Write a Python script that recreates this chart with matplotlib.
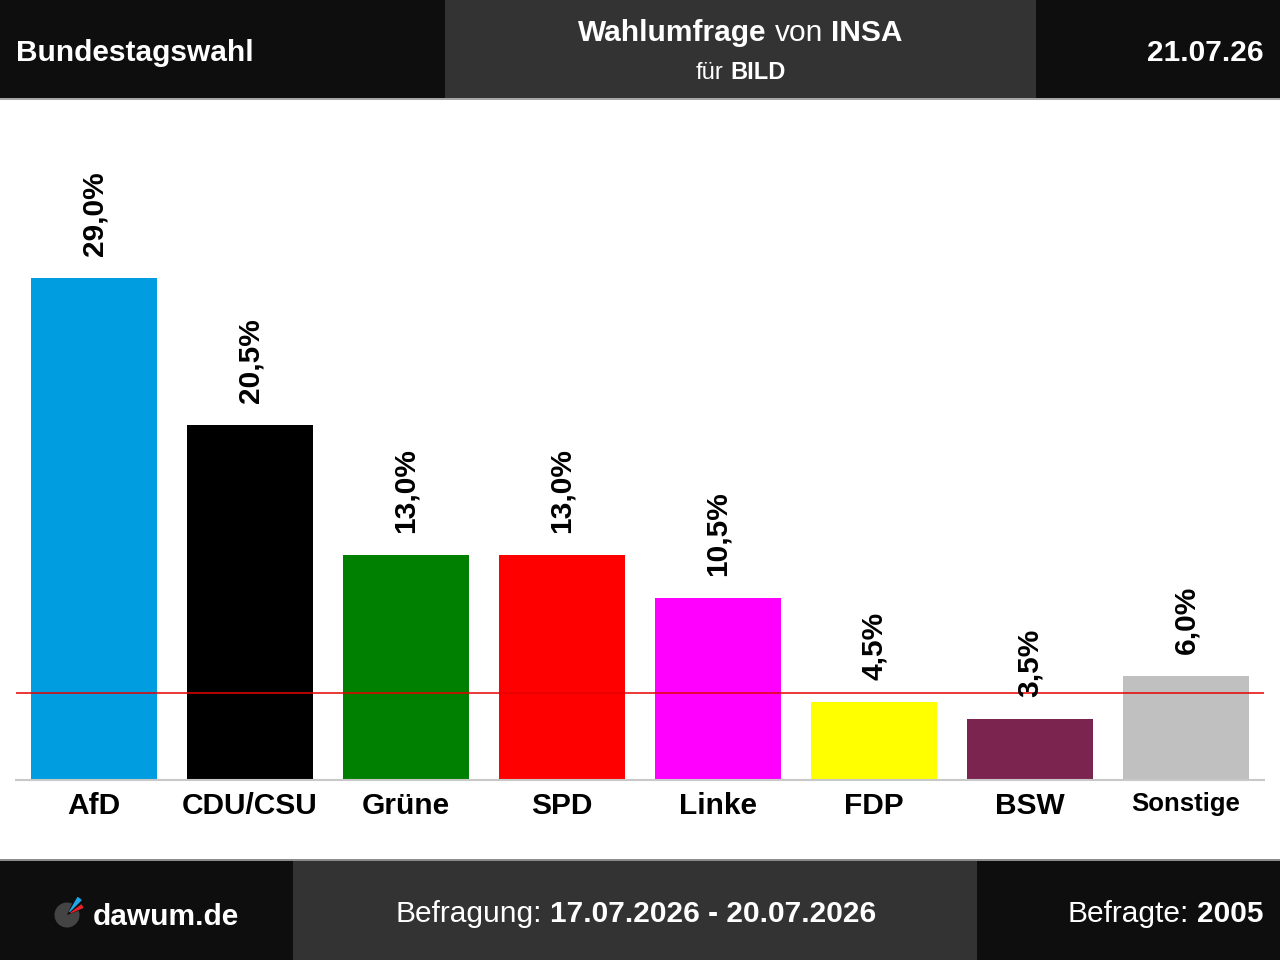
import numpy as np
import matplotlib
matplotlib.use("Agg")
import matplotlib.pyplot as plt
from matplotlib.patches import Rectangle, Wedge

plt.rcParams["font.family"] = ["Liberation Sans", "DejaVu Sans"]

# ── data ──────────────────────────────────────────────────────────────────────
parties = ["AfD", "CDU/CSU", "Grüne", "SPD", "Linke", "FDP", "BSW", "Sonstige"]
shares = [29.0, 20.5, 13.0, 13.0, 10.5, 4.5, 3.5, 6.0]
colors = ["#009ee0", "#000000", "#008000", "#ff0000",
          "#ff00ff", "#ffff00", "#7b2450", "#c0c0c0"]
threshold = 5.0

title_left = "Bundestagswahl"
title_bold1, title_reg, title_bold2 = "Wahlumfrage", "von", "INSA"
subtitle_reg, subtitle_bold = "für", "BILD"
date = "21.07.26"
site = "dawum.de"
period_label, period = "Befragung:", "17.07.2026 - 20.07.2026"
sample_label, sample = "Befragte:", "2005"

DARK = "#0e0e0e"
MID = "#333333"
FS = 21.5
SPACE = 0.278 * FS  # width of a blank, in points

# ── figure ────────────────────────────────────────────────────────────────────
fig = plt.figure(figsize=(12.8, 9.6), dpi=100, facecolor="white")

# background canvas in pixel coordinates (y down)
bg = fig.add_axes([0, 0, 1, 1])
bg.set_xlim(0, 1280)
bg.set_ylim(960, 0)
bg.axis("off")

for x0, w, c in [(0, 445, DARK), (445, 591, MID), (1036, 244, DARK)]:
    bg.add_patch(Rectangle((x0, 0), w, 98, color=c, lw=0))
bg.add_patch(Rectangle((0, 98), 1280, 2, color="#a6a6a6", lw=0))
bg.add_patch(Rectangle((0, 859), 1280, 2, color="#8c8c8c", lw=0))
for x0, w, c in [(0, 293, DARK), (293, 684, MID), (977, 303, DARK)]:
    bg.add_patch(Rectangle((x0, 861), w, 99, color=c, lw=0))

white = dict(color="white", fontsize=FS)


def chain(prev, text, weight, gap=SPACE, size=FS):
    return bg.annotate(text, xy=(1, 0), xycoords=prev, xytext=(gap, 0),
                       textcoords="offset points", ha="left", va="bottom",
                       color="white", fontsize=size, fontweight=weight)


# header
bg.text(16, 61, title_left, ha="left", va="baseline", fontweight="bold", **white)
bg.text(1264, 61, date, ha="right", va="baseline", fontweight="bold", **white)
t = bg.text(578, 41, title_bold1, ha="left", va="baseline", fontweight="bold", **white)
t = chain(t, title_reg, "normal")
chain(t, title_bold2, "bold")
t = bg.text(696, 79, subtitle_reg, ha="left", va="baseline", color="white", fontsize=17)
chain(t, subtitle_bold, "bold", gap=4.7, size=17)

# footer
bg.text(93, 925, site, ha="left", va="baseline", fontweight="bold", **white)
t = bg.text(395, 922, period_label, ha="left", va="baseline", **white)
chain(t, period, "bold")
t = bg.text(1264, 922, sample, ha="right", va="baseline", fontweight="bold", **white)
bg.annotate(sample_label, xy=(0, 0), xycoords=t, xytext=(-SPACE, 0),
            textcoords="offset points", ha="right", va="bottom",
            color="white", fontsize=FS)

# logo (angles negated because the canvas y axis points down)
bg.add_patch(Wedge((67, 915), 12.5, -20, 294, color="#444444", lw=0))
bg.add_patch(Wedge((67, 915), 21, -60, -45, width=17, color="#1ea7e8", lw=0))
bg.add_patch(Wedge((67, 915), 18, -37, -23, width=14, color="#e8202a", lw=0))

# ── chart ─────────────────────────────────────────────────────────────────────
ax = fig.add_axes([16 / 1280, 180 / 960, 1248 / 1280, 680 / 960])
ax.patch.set_alpha(0)
x = np.arange(len(parties))
ax.bar(x, shares, width=0.808, color=colors, zorder=2)
ax.axhline(threshold, color="#e60000", lw=1.1, zorder=3)

for xi, v in zip(x, shares):
    ax.annotate(f"{v:.1f}".replace(".", ",") + "%", xy=(xi, v), xytext=(0, 16),
                textcoords="offset points", rotation=90, ha="center",
                va="bottom", fontsize=FS, fontweight="bold")

ax.set_xlim(-0.5, len(parties) - 0.5)
ax.set_ylim(0, 680 / (502 / 29))
ax.set_xticks(x, parties, fontsize=FS, fontweight="bold")
ax.get_xticklabels()[-1].set_fontsize(18.5)
ax.tick_params(axis="x", length=0, pad=9)
ax.set_yticks([])
for side in ["top", "left", "right"]:
    ax.spines[side].set_visible(False)
ax.spines["bottom"].set_color("#c8c8c8")
ax.spines["bottom"].set_linewidth(1.5)

fig.savefig("out.png", dpi=100)
